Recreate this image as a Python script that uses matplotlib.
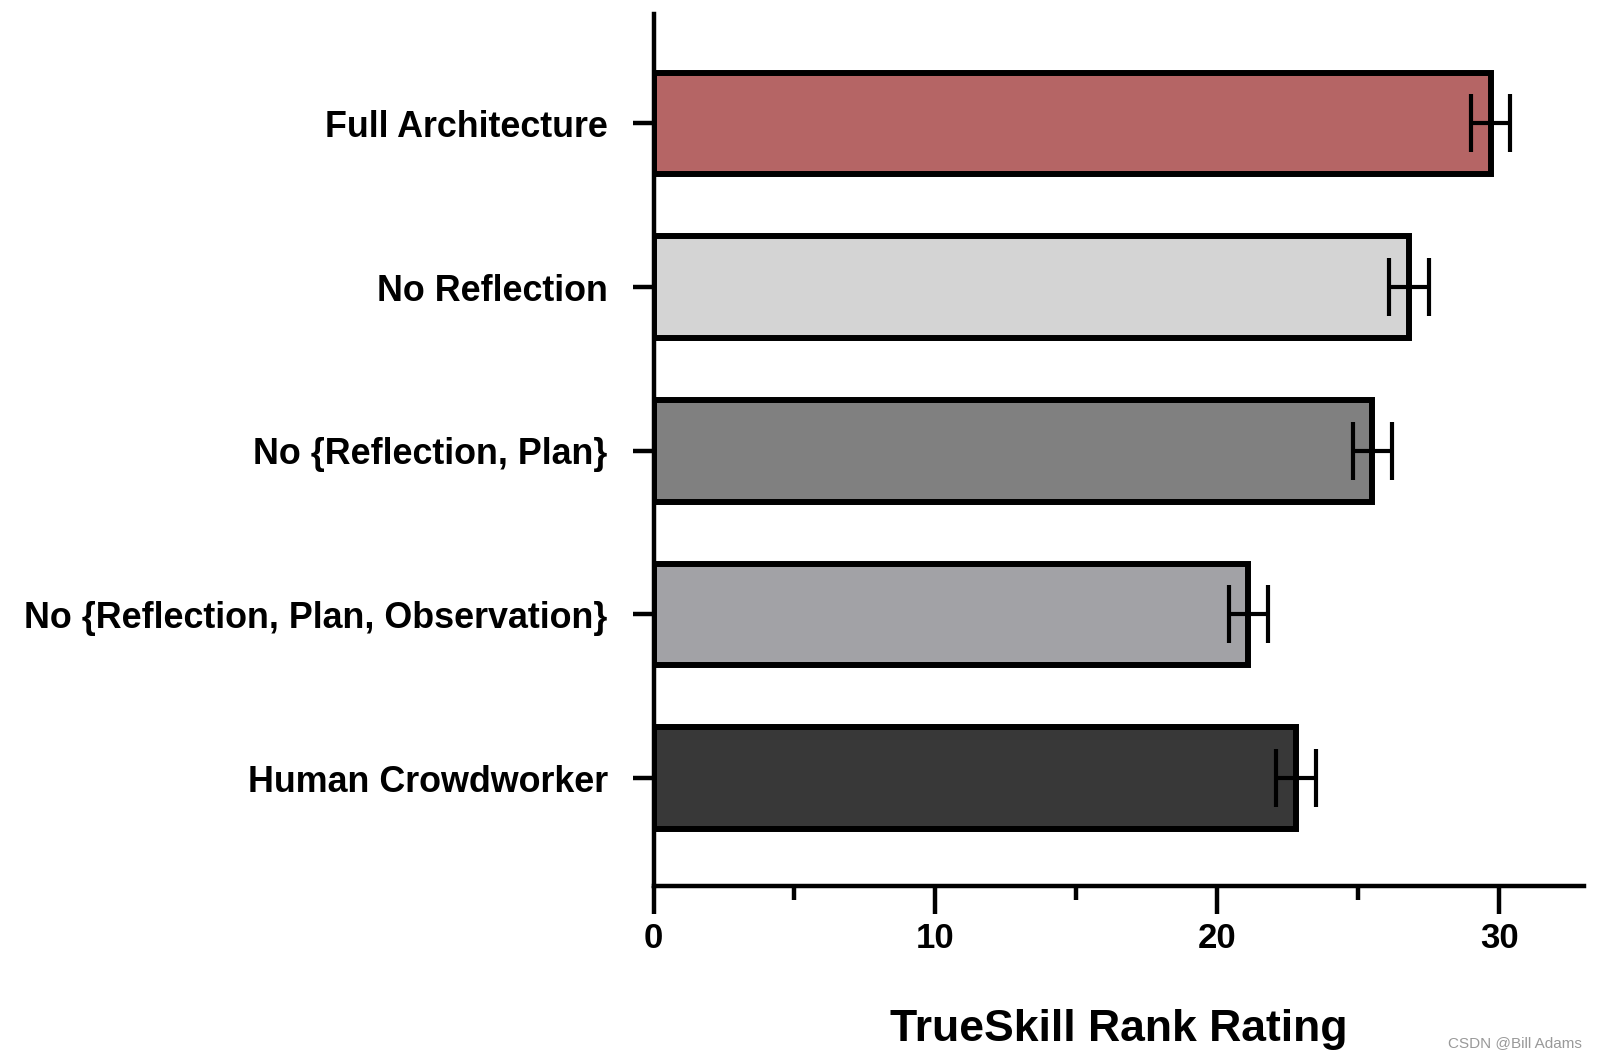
import matplotlib.pyplot as plt
from matplotlib.ticker import MultipleLocator

# values
labels = ['Full Architecture', 'No Reflection', 'No {Reflection, Plan}',
          'No {Reflection, Plan, Observation}', 'Human Crowdworker']
ratings = [29.7, 26.8, 25.5, 21.1, 22.8]
errors = [0.7, 0.7, 0.7, 0.7, 0.7]
colors = ['#b56565', '#d4d4d4', '#808080', '#a2a2a6', '#383838']

plt.rcParams['font.family'] = ['Liberation Sans', 'DejaVu Sans']

fig = plt.figure(figsize=(15.98, 10.60), dpi=100)
ax = fig.add_axes([0.409, 0.164, 0.582, 0.823])

ypos = list(range(len(labels)))
ax.barh(ypos, ratings, height=0.62, color=colors, edgecolor='black',
        linewidth=4.3, zorder=2)
ax.errorbar(ratings, ypos, xerr=errors, fmt='none', ecolor='black',
            elinewidth=3, capsize=21, capthick=3, zorder=3)

ax.set_xlim(0, 33)
ax.set_ylim(4.66, -0.67)
ax.set_yticks(ypos)
ax.set_yticklabels(labels, fontsize=25.8, fontweight='bold')

ax.xaxis.set_major_locator(MultipleLocator(10))
ax.xaxis.set_minor_locator(MultipleLocator(5))
ax.tick_params(axis='x', which='major', length=20, width=3.2, labelsize=25, pad=6)
ax.tick_params(axis='x', which='minor', length=10, width=3.2)
ax.tick_params(axis='y', length=15, width=3.2, pad=18)
for t in ax.get_xticklabels():
    t.set_fontweight('bold')

ax.set_xlabel('TrueSkill Rank Rating', fontsize=32, fontweight='bold',
              labelpad=39)

for side in ['top', 'right']:
    ax.spines[side].set_visible(False)
for side in ['left', 'bottom']:
    ax.spines[side].set_linewidth(3.2)

fig.text(0.99, 0.012, 'CSDN @Bill Adams', fontsize=11, color='#999999',
         ha='right')

fig.savefig('out.png', dpi=100)
